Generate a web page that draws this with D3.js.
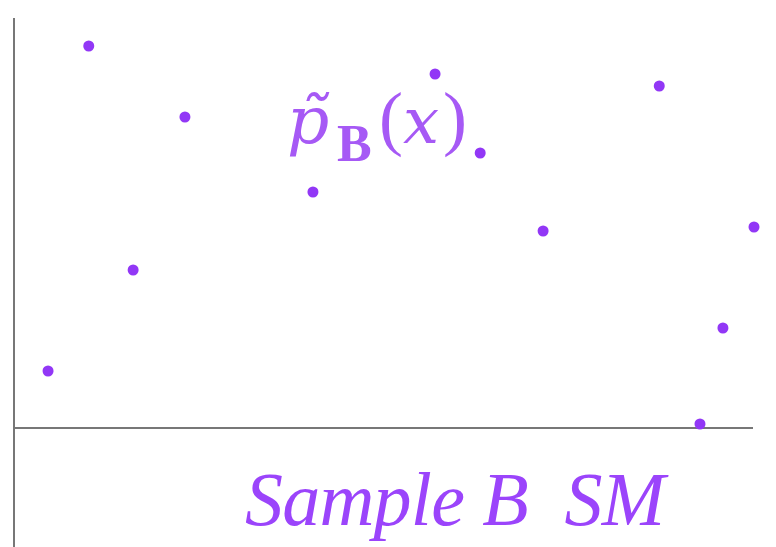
<!DOCTYPE html>
<html>
<head>
<meta charset="utf-8">
<script src="https://cdn.jsdelivr.net/npm/d3@7/dist/d3.min.js"></script>
<style>
  html, body { margin: 0; padding: 0; background: #fff; }
  svg { display: block; }
</style>
</head>
<body>
<svg id="chart" width="776" height="547"></svg>
<script>
// Sample B measurements
const sampleX = [0.46, 1.01, 1.61, 2.31, 4.04, 5.69, 6.30, 7.15, 8.72, 9.27, 9.58, 10.0];
const sampleY = [0.1425, 0.955, 0.395, 0.7775, 0.59, 0.885, 0.6875, 0.4925, 0.855, 0.01, 0.25, 0.5025];
const xDomain = [0, 10];
const yDomain = [0, 1];

const svg = d3.select("#chart");
const x = d3.scaleLinear().domain(xDomain).range([14, 754]);
const y = d3.scaleLinear().domain(yDomain).range([428, 28]);

// axes: plain lines, no ticks
svg.append("line")
  .attr("x1", x(0)).attr("x2", x(0))
  .attr("y1", 18).attr("y2", 547)
  .attr("stroke", "#777").attr("stroke-width", 2);
svg.append("line")
  .attr("x1", x(0)).attr("x2", 753)
  .attr("y1", y(0)).attr("y2", y(0))
  .attr("stroke", "#777").attr("stroke-width", 2);

// points
svg.append("g").selectAll("circle")
  .data(sampleX.map((v, i) => [v, sampleY[i]]))
  .join("circle")
  .attr("cx", d => x(d[0]))
  .attr("cy", d => y(d[1]))
  .attr("r", 5.5)
  .attr("fill", "#9237f6");

// density label, laid out piece by piece like typeset math
const lbl = svg.append("g")
  .attr("fill", "#a659f5")
  .attr("font-family", "'Liberation Serif', serif");
lbl.append("text").attr("x", 287).attr("y", 143)
  .attr("font-family", "'DejaVu Serif', serif")
  .attr("font-style", "italic").attr("font-size", 66).text("p\u0303");
lbl.append("text").attr("x", 337).attr("y", 161)
  .attr("font-weight", "bold").attr("font-size", 52).text("B");
lbl.append("text").attr("x", 379).attr("y", 142)
  .attr("font-size", 72).text("(");
lbl.append("text").attr("x", 403).attr("y", 143)
  .attr("font-family", "'DejaVu Serif', serif")
  .attr("font-style", "italic").attr("font-size", 64).text("x");
lbl.append("text").attr("x", 443).attr("y", 142)
  .attr("font-size", 72).text(")");

// axis caption
svg.append("text")
  .attr("x", 245).attr("y", 525)
  .attr("font-family", "'Liberation Serif', serif")
  .attr("font-style", "italic")
  .attr("font-size", 76)
  .attr("fill", "#9b44fb")
  .attr("xml:space", "preserve")
  .attr("textLength", 420)
  .attr("lengthAdjust", "spacing")
  .text("Sample B  SM");
</script>
</body>
</html>
